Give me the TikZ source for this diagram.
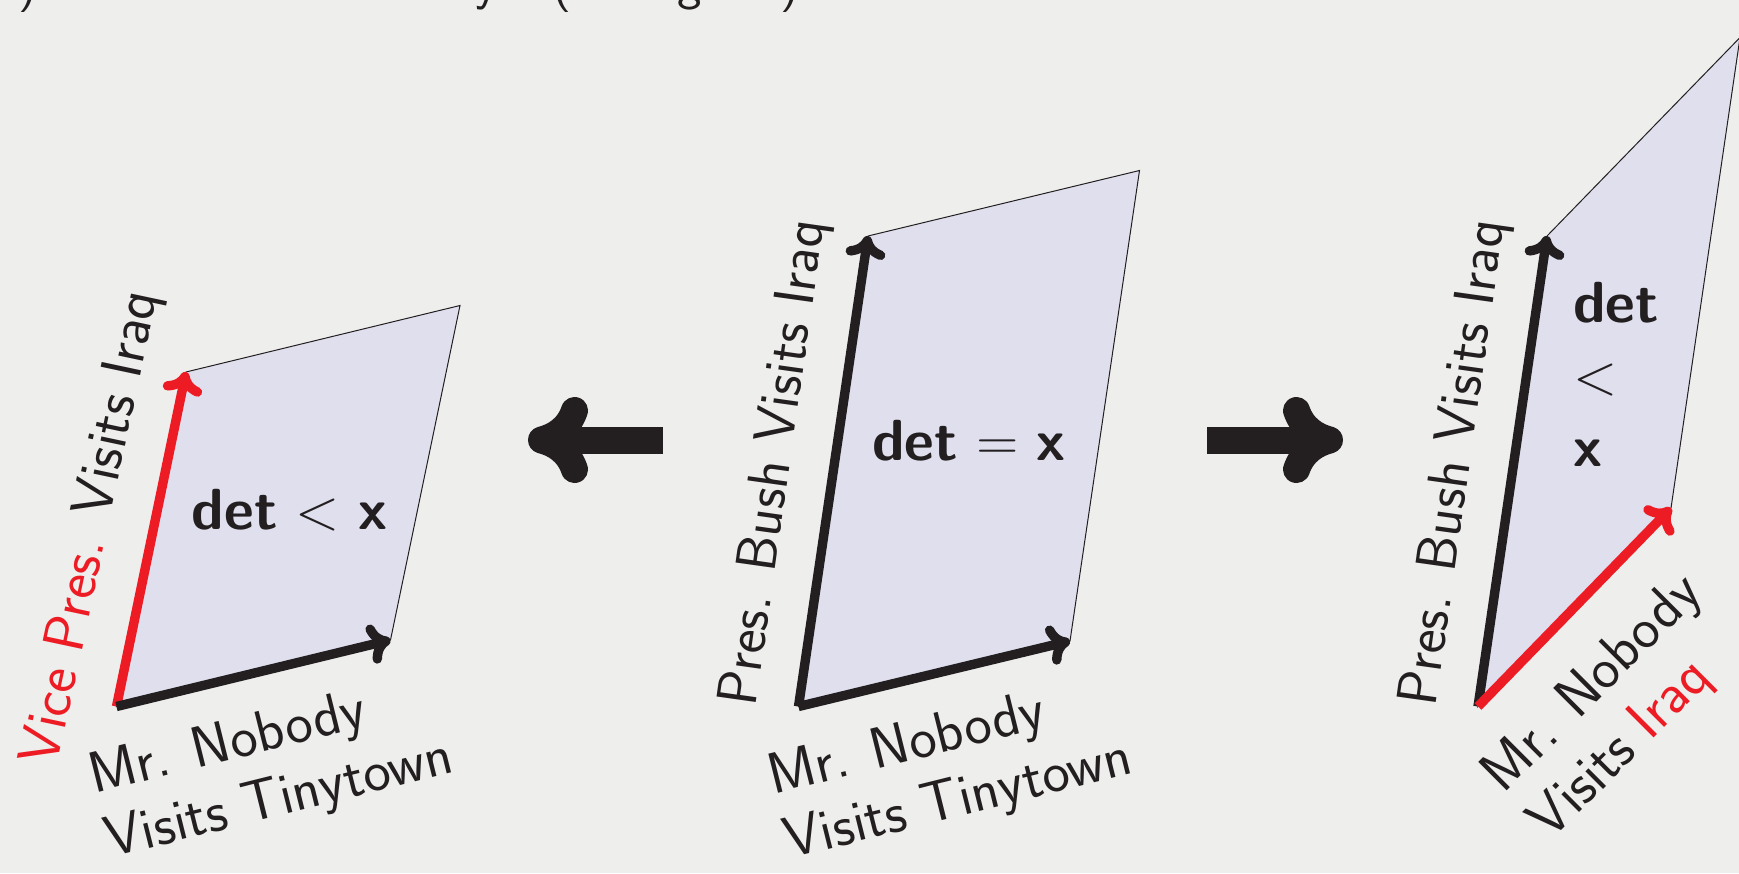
\documentclass[tikz,border=0pt]{standalone}
\usetikzlibrary{arrows.meta}
\definecolor{bg}{RGB}{238,238,236}
\definecolor{pfill}{RGB}{223,223,238}
\definecolor{vred}{RGB}{237,28,36}
\definecolor{ink}{RGB}{35,31,32}
\tikzset{
  lbl/.style={inner sep=0pt, text=ink, font=\sffamily\fontsize{29}{33}\selectfont},
  vlbl/.style={inner sep=0pt, text=ink, font=\sffamily\fontsize{28.5}{33}\selectfont},
  detlbl/.style={inner sep=0pt, text=ink, font=\sffamily\fontsize{29}{36}\selectfont},
  para/.style={fill=pfill, draw=ink, line width=0.5pt},
  vecarrow/.style={line width=4.7pt, -{Computer Modern Rightarrow[length=11pt,width=20pt]}},
  bigarrow/.style={draw=ink, line width=13.5pt, -{Computer Modern Rightarrow[length=30pt,width=43pt]}},
  frag/.style={inner sep=0pt, text=ink, font=\sffamily\fontsize{26}{30}\selectfont, anchor=base},
}
\begin{document}
\begin{tikzpicture}[x=0.5pt,y=-0.5pt]
\useasboundingbox (0,0) rectangle (1739,873);
\fill[bg] (0,0) rectangle (1739,873);

% clipped title fragments
\node[frag] (t1) at (28,-1) {)};
\node[frag] (t2) at (487,-1) {y};
\node[frag] (t3) at (562,-1) {(};
\node[frag] (t4) at (690,-1) {g};
\node[frag] (t5) at (790,-1) {)};

% left panel
\coordinate (O1) at (116.5,706.5);
\coordinate (V1) at (186,372);
\coordinate (B1) at (390.5,640);
\coordinate (C1) at (460,305.5);
\path[para] (O1) -- (B1) -- (C1) -- (V1) -- cycle;
\draw[vecarrow, vred] (O1) -- (V1);
\draw[vecarrow, ink] (O1) -- (B1);
\node[lbl, rotate=78] (L1v) at (93,528) {\textcolor{vred}{Vice Pres.} Visits Iraq};
\node[lbl, rotate=14, anchor=base west, align=left] (L1h) at (110,858) {Mr. Nobody\\Visits Tinytown};
\node[detlbl, anchor=base] (D1) at (289.5,529) {\textbf{det} < \textbf{x}};

% middle panel
\coordinate (O2) at (798.5,706.5);
\coordinate (V2) at (868,236);
\coordinate (B2) at (1070,641);
\coordinate (C2) at (1139.5,170.5);
\path[para] (O2) -- (B2) -- (C2) -- (V2) -- cycle;
\draw[vecarrow, ink] (O2) -- (V2);
\draw[vecarrow, ink] (O2) -- (B2);
\node[vlbl, rotate=82] (L2v) at (776,463) {Pres. Bush Visits Iraq};
\node[lbl, rotate=14, anchor=base west, align=left] (L2h) at (789,859) {Mr. Nobody\\Visits Tinytown};
\node[detlbl, anchor=base] (D2) at (969,460) {\textbf{det} = \textbf{x}};

% right panel
\coordinate (O3) at (1478,706.5);
\coordinate (V3) at (1547,236);
\coordinate (B3) at (1671,508);
\coordinate (C3) at (1740,37.5);
\path[para] (O3) -- (B3) -- (C3) -- (V3) -- cycle;
\draw[vecarrow, ink] (O3) -- (V3);
\draw[vecarrow, vred] (O3) -- (B3);
\node[vlbl, rotate=82] (L3v) at (1456,463) {Pres. Bush Visits Iraq};
\node[lbl, rotate=45, anchor=base west, align=left] (L3h) at (1550.3,841.9) {Mr. Nobody\\Visits \textcolor{vred}{Iraq}};
\node[detlbl, anchor=base west, align=left] (D3) at (1573,466) {\textbf{det}\\<\\\textbf{x}};

% big arrows
\coordinate (LAs) at (663,440);
\coordinate (LAe) at (528,440);
\draw[bigarrow] (LAs) -- (LAe);
\coordinate (RAs) at (1207,440);
\coordinate (RAe) at (1343,440);
\draw[bigarrow] (RAs) -- (RAe);
\end{tikzpicture}
\end{document}
